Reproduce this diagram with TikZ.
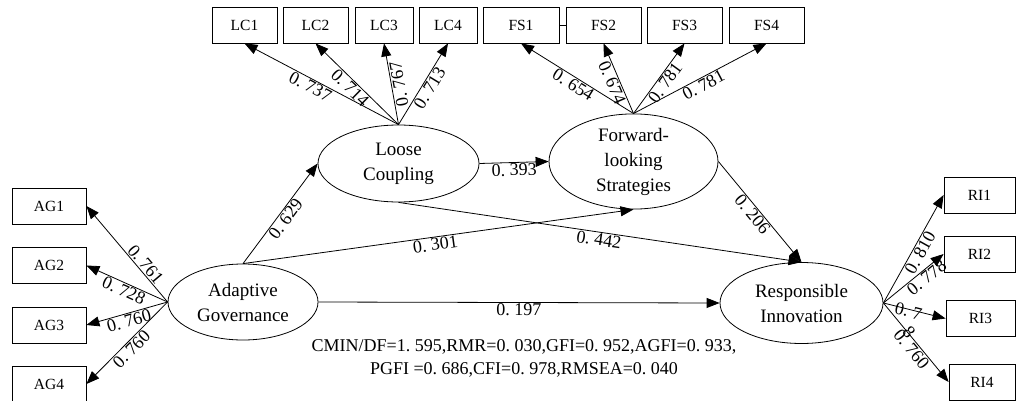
\documentclass[tikz,border=0pt]{standalone}
\usepackage{fontspec}
\setmainfont{Liberation Serif}
\usetikzlibrary{arrows.meta,shapes.geometric}
\newcommand{\nv}[1]{0.\kern.25em#1}
\begin{document}
\begin{tikzpicture}[x=1pt,y=-1pt,
  ind/.style={draw,line width=0.8pt,inner sep=0pt,minimum height=36pt,font=\fontsize{15.5}{15.5}\selectfont},
  lat/.style={draw,ellipse,line width=0.8pt,inner sep=0pt,align=center,font=\fontsize{19}{25}\selectfont},
  path/.style={line width=0.8pt,-{Triangle[length=13pt,width=10pt]}},
  lab/.style={font=\fontsize{18}{18}\selectfont,inner sep=1pt,sloped},
  fit/.style={font=\fontsize{18}{23}\selectfont,align=center,inner sep=0pt}]
\useasboundingbox (0,0) rectangle (1016,401);
% indicators
\node[ind,minimum width=65pt] (lc1) at (244.5,25) {LC1};
\node[ind,minimum width=65pt] (lc2) at (315.5,25) {LC2};
\node[ind,minimum width=58pt] (lc3) at (384,25) {LC3};
\node[ind,minimum width=58pt] (lc4) at (448,25) {LC4};
\node[ind,minimum width=76pt] (fs1) at (521,25) {FS1};
\node[ind,minimum width=75pt] (fs2) at (603.5,25) {FS2};
\node[ind,minimum width=75pt] (fs3) at (684.5,25) {FS3};
\node[ind,minimum width=75pt] (fs4) at (766.5,25) {FS4};
\node[ind,minimum width=74pt] (ag1) at (49,206) {AG1};
\node[ind,minimum width=74pt] (ag2) at (49,265.5) {AG2};
\node[ind,minimum width=74pt] (ag3) at (49,325) {AG3};
\node[ind,minimum width=74pt] (ag4) at (49,384) {AG4};
\node[ind,minimum width=71pt] (ri1) at (979.5,195) {RI1};
\node[ind,minimum width=71pt] (ri2) at (979.5,254) {RI2};
\node[ind,minimum width=69pt] (ri3) at (980.5,318.5) {RI3};
\node[ind,minimum width=66pt] (ri4) at (982,382) {RI4};
\draw[line width=0.8pt] (fs1.east) -- (fs2.west);
% latent variables
\node[lat,minimum width=150pt,minimum height=76pt] (ag) at (243,302) {Adaptive\\Governance};
\node[lat,minimum width=161pt,minimum height=77pt] (lc) at (398.5,163.5) {Loose\\Coupling};
\node[lat,minimum width=169pt,minimum height=87pt] (fs) at (633.5,161.5) {Forward-\\looking\\Strategies};
\node[lat,minimum width=163pt,minimum height=81pt] (ri) at (801.5,303) {Responsible\\Innovation};
% loadings
\draw[path] (lc.north) -- node[lab,pos=0.55,below]{\nv{737}} (lc1.south);
\draw[path] (lc.north) -- node[lab,pos=0.52,below]{\nv{714}} (lc2.south);
\draw[path] (lc.north) -- node[lab,pos=0.48,below,allow upside down]{\nv{767}} (lc3.south);
\draw[path] (lc.north) -- node[lab,pos=0.50,below]{\nv{713}} (lc4.south);
\draw[path] (fs.north) -- node[lab,pos=0.50,below]{\nv{654}} (fs1.south);
\draw[path] (fs.north) -- node[lab,pos=0.48,below]{\nv{674}} (fs2.south);
\draw[path] (fs.north) -- node[lab,pos=0.50,below]{\nv{781}} (fs3.south);
\draw[path] (fs.north) -- node[lab,pos=0.50,below]{\nv{781}} (fs4.south);
\draw[path] (ag.west) -- node[lab,pos=0.34,above]{\nv{761}} (ag1.east);
\draw[path] (ag.west) -- node[lab,pos=0.50,below]{\nv{728}} (ag2.east);
\draw[path] (ag.west) -- node[lab,pos=0.50,below]{\nv{760}} (ag3.east);
\draw[path] (ag.west) -- node[lab,pos=0.51,below]{\nv{760}} (ag4.east);
\draw[path] (ri.east) -- node[lab,pos=0.50,below]{\nv{810}} (ri1.west);
\draw[path] (ri.east) -- node[lab,pos=0.64,below]{\nv{778}} (ri2.west);
\draw[path] (ri.east) -- node[lab,pos=0.41,yshift=-2pt]{\nv{7}} (ri3.west);
\draw[path] (ri.east) -- node[lab,pos=0.52,below]{\nv{760}} (ri4.west);
\node[font=\fontsize{18}{18}\selectfont,inner sep=0pt,rotate=-50] (ri3b) at (909,332) {8};
% structural paths
\draw[path] (ag.north) -- node[lab,pos=0.49,below]{\nv{629}} (lc.west);
\draw[path] (ag.north) -- node[lab,pos=0.49,below]{\nv{301}} (fs.south);
\draw[path] (lc.east) -- node[lab,pos=0.5,below]{\nv{393}} (fs.west);
\draw[path] (lc.south) -- node[lab,pos=0.5,below]{\nv{442}} (ri.north);
\draw[path] (fs.east) -- node[lab,pos=0.48,below]{\nv{206}} (ri.north);
\draw[path] (ag.east) -- node[lab,pos=0.5,below]{\nv{197}} (ri.west);
% fit indices
\node[fit] (fitidx) at (524,358) {CMIN/DF=1.\kern.25em595,RMR=0.\kern.25em030,GFI=0.\kern.25em952,AGFI=0.\kern.25em933,\\PGFI =0.\kern.25em686,CFI=0.\kern.25em978,RMSEA=0.\kern.25em040};
\end{tikzpicture}
\end{document}
